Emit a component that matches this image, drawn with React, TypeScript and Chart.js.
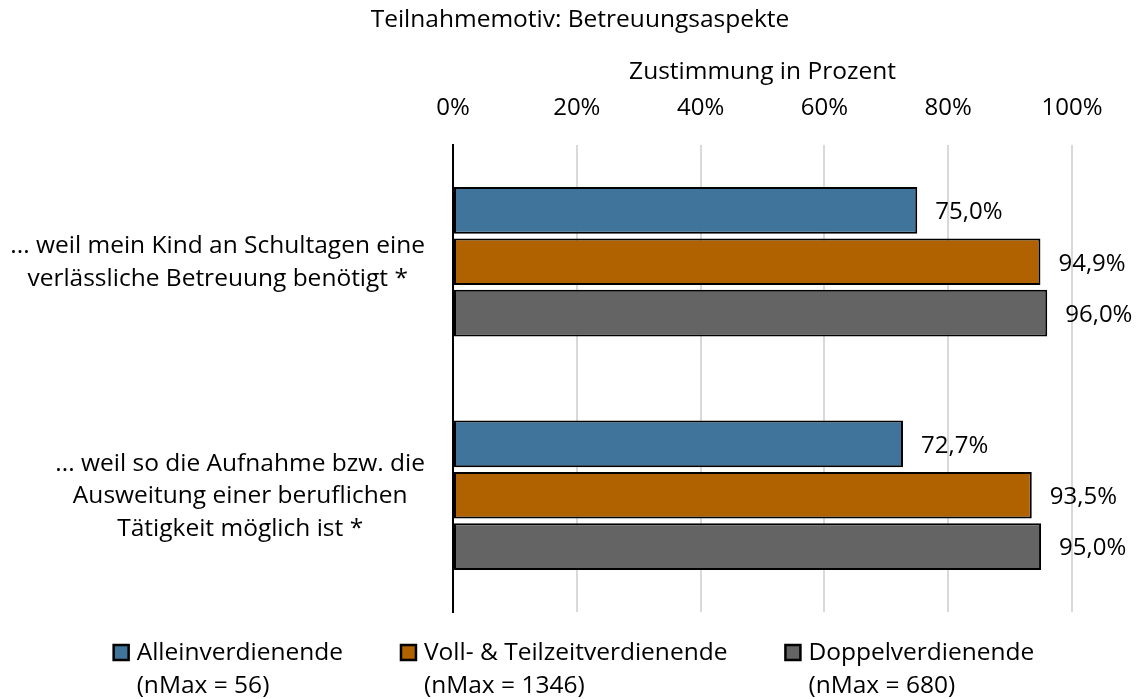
import React, { useEffect, useRef } from "react";
import { Chart, registerables } from "chart.js";

Chart.register(...registerables);

const categories: string[][] = [
  ["... weil mein Kind an Schultagen eine", "verlässliche Betreuung benötigt *"],
  ["... weil so die Aufnahme bzw. die", "Ausweitung einer beruflichen", "Tätigkeit möglich ist *"],
];
const seriesNames = ["Alleinverdienende", "Voll- & Teilzeitverdienende", "Doppelverdienende"];
const seriesNotes = ["(nMax = 56)", "(nMax = 1346)", "(nMax = 680)"];
const alleinValues = [75.0, 72.7];
const vollTeilValues = [94.9, 93.5];
const doppelValues = [96.0, 95.0];
const seriesColors = ["#41749A", "#B06200", "#646464"];
const xTicks = [0, 20, 40, 60, 80, 100];
const chartTitle = "Teilnahmemotiv: Betreuungsaspekte";
const axisTitle = "Zustimmung in Prozent";

const FONT = "'Open Sans', sans-serif";
const FS = 24.5;

const textPlugin = {
  id: "customText",
  afterDatasetsDraw(chart: any) {
    const ctx = chart.ctx;
    ctx.save();
    ctx.font = `24px ${FONT}`;
    ctx.fillStyle = "#000";
    ctx.textBaseline = "middle";
    ctx.textAlign = "left";
    chart.data.datasets.forEach((ds: any, i: number) => {
      const meta = chart.getDatasetMeta(i);
      meta.data.forEach((el: any, j: number) => {
        const v = ds.data[j] as number;
        ctx.fillText(v.toFixed(1).replace(".", ",") + "%", el.x + 18, el.y + 2);
      });
    });
    ctx.restore();
  },
  afterDraw(chart: any) {
    const ctx = chart.ctx;
    const area = chart.chartArea;
    ctx.save();
    ctx.font = `${FS}px ${FONT}`;
    ctx.fillStyle = "#000";
    ctx.textBaseline = "middle";
    ctx.textAlign = "center";
    ctx.fillText(chartTitle, 580, 20);
    ctx.fillText(axisTitle, (area.left + area.right) / 2, 72);

    // category labels: each block right-aligned, lines centred within block
    const yScale = chart.scales.y;
    const lineH = 32.5;
    const rightEdge = area.left - 28;
    categories.forEach((lines, i) => {
      const widest = Math.max(...lines.map((l) => ctx.measureText(l).width));
      const cx = rightEdge - widest / 2;
      const cy = yScale.getPixelForTick(i);
      const y0 = cy - ((lines.length - 1) * lineH) / 2;
      lines.forEach((l, k) => ctx.fillText(l, cx, y0 + k * lineH + 1));
    });

    // legend
    const box = 15;
    const gap = 8;
    const spacing = 58;
    const widths = seriesNames.map((n) => ctx.measureText(n).width);
    const total = widths.reduce((a, w) => a + box + gap + w, 0) + spacing * (seriesNames.length - 1);
    let x = 574 - total / 2;
    ctx.textAlign = "left";
    seriesNames.forEach((name, i) => {
      ctx.fillStyle = seriesColors[i];
      ctx.fillRect(x, 645, box, box);
      ctx.strokeStyle = "#000";
      ctx.lineWidth = 2.5;
      ctx.strokeRect(x, 645, box, box);
      ctx.fillStyle = "#000";
      const tx = x + box + gap;
      ctx.fillText(name, tx, 653);
      ctx.fillText(seriesNotes[i], tx, 686);
      x = tx + widths[i] + spacing;
    });
    ctx.restore();
  },
};

export default function App() {
  const ref = useRef<HTMLCanvasElement | null>(null);
  useEffect(() => {
    if (!ref.current) return;
    const chart = new Chart(ref.current, {
      type: "bar",
      data: {
        labels: categories.map((c) => c.join(" ")),
        datasets: [
          { label: seriesNames[0], data: alleinValues, backgroundColor: seriesColors[0] },
          { label: seriesNames[1], data: vollTeilValues, backgroundColor: seriesColors[1] },
          { label: seriesNames[2], data: doppelValues, backgroundColor: seriesColors[2] },
        ].map((d) => ({
          ...d,
          borderColor: "#000",
          borderWidth: 2,
          borderSkipped: false,
          categoryPercentage: 0.66,
          barPercentage: 0.91,
        })),
      },
      options: {
        indexAxis: "y",
        animation: false,
        responsive: false,
        maintainAspectRatio: false,
        layout: { padding: { left: 0, right: 64, top: 0, bottom: 87 } },
        plugins: {
          legend: { display: false },
          title: { display: false },
          tooltip: { enabled: false },
        },
        scales: {
          x: {
            position: "top",
            min: 0,
            max: 100,
            afterBuildTicks: (scale: any) => {
              scale.ticks = xTicks.map((v) => ({ value: v }));
            },
            afterFit: (scale: any) => {
              scale.height = 145;
            },
            ticks: {
              callback: (v: any) => v + "%",
              font: { family: FONT, size: 24 },
              color: "#000",
              padding: 22,
              maxRotation: 0,
            },
            grid: { color: "#d9d9d9", lineWidth: 2, drawTicks: false },
            border: { display: false },
          },
          y: {
            afterFit: (scale: any) => {
              scale.width = 453;
            },
            ticks: { display: false },
            grid: { display: false, drawTicks: false },
            border: { display: true, color: "#000", width: 2 },
          },
        },
      },
      plugins: [textPlugin],
    });
    return () => chart.destroy();
  }, []);
  return (
    <div style={{ position: "absolute", left: 0, top: 0, width: 1136, height: 699, background: "#fff" }}>
      <canvas ref={ref} width={1136} height={699} style={{ display: "block" }} />
    </div>
  );
}
